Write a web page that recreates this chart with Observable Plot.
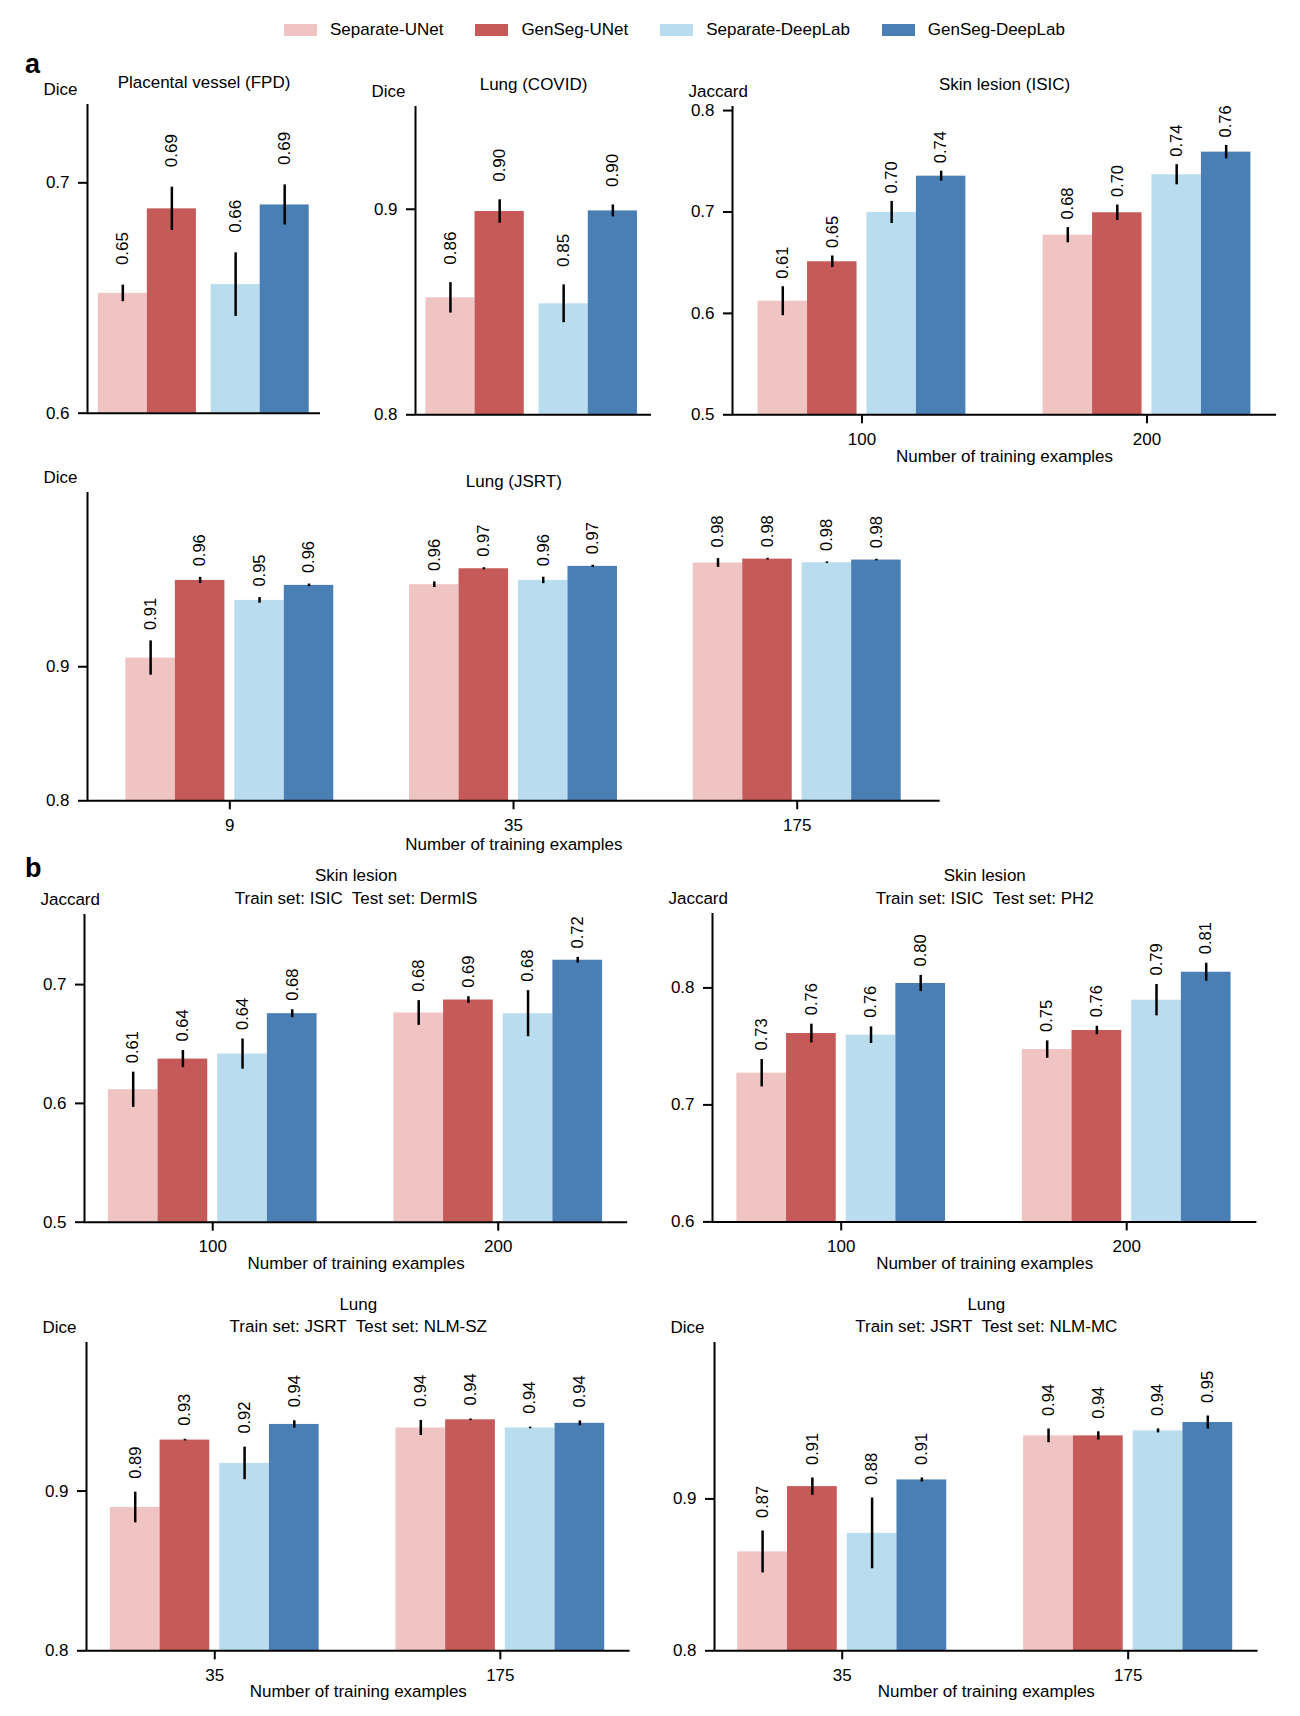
<!DOCTYPE html>
<html>
<head>
<meta charset="utf-8">
<script src="https://cdn.jsdelivr.net/npm/d3@7"></script>
<script src="https://cdn.jsdelivr.net/npm/@observablehq/plot@0.6"></script>
<style>
  body { margin: 0; background: #fff; font-family: "Liberation Sans", Arial, sans-serif; color: #000; }
  #root { position: relative; width: 1300px; height: 1716px; overflow: hidden; }
  .panel { position: absolute; }
  .letter { position: absolute; font-weight: bold; font-size: 27px; line-height: 1; }
  .legend { position: absolute; display: flex; align-items: center; font-size: 17px; white-space: nowrap; }
  .legend .item { display: flex; align-items: center; margin-right: 32px; }
  .legend .sw { width: 33px; height: 12px; margin-right: 13px; }
</style>
</head>
<body>
<div id="root"></div>
<script>
// ---------- series ----------
const series = ["Separate-UNet", "GenSeg-UNet", "Separate-DeepLab", "GenSeg-DeepLab"];
const colors = ["#F0C4C2", "#C55A58", "#BADCEF", "#4A7FB5"];

// ---------- panel a ----------
const fpdGroups = [""];
const fpdMean = [[0.652, 0.6887, 0.6558, 0.6904]];
const fpdErr  = [[0.0036, 0.0094, 0.0138, 0.0087]];
const fpdTicks = [0.6, 0.7];

const covidGroups = [""];
const covidMean = [[0.8569, 0.8989, 0.854, 0.8992]];
const covidErr  = [[0.0074, 0.0057, 0.0092, 0.0029]];
const covidTicks = [0.8, 0.9];

const isicGroups = ["100", "200"];
const isicMean = [[0.612, 0.6509, 0.6995, 0.7353], [0.6771, 0.6992, 0.7367, 0.759]];
const isicErr  = [[0.0143, 0.0057, 0.0109, 0.0049], [0.0075, 0.0076, 0.0099, 0.0066]];
const isicTicks = [0.5, 0.6, 0.7, 0.8];

const jsrtGroups = ["9", "35", "175"];
const jsrtMean = [[0.9065, 0.9644, 0.9495, 0.9607], [0.9612, 0.9731, 0.9644, 0.9749], [0.9774, 0.9803, 0.9776, 0.9796]];
const jsrtErr  = [[0.0128, 0.0023, 0.0021, 0.001], [0.0021, 0.0008, 0.0024, 0.0008], [0.0033, 0.0006, 0.0006, 0.0006]];
const jsrtTicks = [0.8, 0.9];

// ---------- panel b ----------
const dermGroups = ["100", "200"];
const dermMean = [[0.6115, 0.6373, 0.6415, 0.6755], [0.6761, 0.687, 0.6755, 0.7205]];
const dermErr  = [[0.0148, 0.0072, 0.0127, 0.0033], [0.0104, 0.0028, 0.0194, 0.0024]];
const dermTicks = [0.5, 0.6, 0.7];

const ph2Groups = ["100", "200"];
const ph2Mean = [[0.7271, 0.761, 0.7596, 0.8038], [0.7473, 0.7636, 0.7895, 0.8134]];
const ph2Err  = [[0.0117, 0.008, 0.0071, 0.0069], [0.0074, 0.0036, 0.0134, 0.0077]];
const ph2Ticks = [0.6, 0.7, 0.8];

const szGroups = ["35", "175"];
const szMean = [[0.8897, 0.9319, 0.9173, 0.9417], [0.9395, 0.9446, 0.9395, 0.9424]];
const szErr  = [[0.0096, 0.0005, 0.0102, 0.0023], [0.0047, 0.0005, 0.0005, 0.0015]];
const szTicks = [0.8, 0.9];

const mcGroups = ["35", "175"];
const mcMean = [[0.8651, 0.9081, 0.8773, 0.9125], [0.9415, 0.9415, 0.9448, 0.9503]];
const mcErr  = [[0.0138, 0.0057, 0.0233, 0.0013], [0.0045, 0.0027, 0.0013, 0.0043]];
const mcTicks = [0.8, 0.9];

const xTitle = "Number of training examples";

// ---------- layout (positions & styles only) ----------
const FONT = "'Liberation Sans', Arial, Helvetica, sans-serif";
const FS = 17;
const root = document.getElementById("root");
const fmt = d3.format(".2f");

function panel(o) {
  const [fl, fr, ft, fb] = o.frame;
  const mL = 60, mR = 14, mT = 56, mB = 60;
  const rows = [];
  o.groups.forEach((g, gi) => series.forEach((s, si) => {
    const off = [-2 - o.gap / 2, -1 - o.gap / 2, o.gap / 2, 1 + o.gap / 2][si];
    const x1 = gi * o.S + off;
    rows.push({group: g, series: s, x1, x2: x1 + 1, xc: x1 + 0.5,
      base: o.yDomain[0], v: o.mean[gi][si], e: o.err[gi][si]});
  }));
  const marks = [
    Plot.rectY(rows, {x1: "x1", x2: "x2", y1: "base", y2: "v", fill: "series"}),
    Plot.ruleX(rows, {x: "xc", y1: d => d.v - d.e, y2: d => d.v + d.e, stroke: "black", strokeWidth: 2.5}),
    Plot.text(rows, {x: "xc", y: d => d.v + d.e, text: d => fmt(d.v), rotate: -90,
      textAnchor: "start", lineAnchor: "middle", dy: -o.labelGap, fontSize: o.labelSize || 16.5}),
    Plot.ruleX([o.xDomain[0]], {stroke: "black", strokeWidth: 2}),
    Plot.ruleY([o.yDomain[0]], {stroke: "black", strokeWidth: 2}),
    Plot.axisY({ticks: o.yTicks, tickFormat: ".1f", tickSize: 9, tickPadding: 9,
      strokeWidth: 2, fontSize: FS, label: null}),
    Plot.text([o.ylabel], {text: d => d, frameAnchor: "top-left", textAnchor: "start",
      lineAnchor: "middle", dx: -44, dy: -14.5, fontSize: FS})
  ];
  o.titles.forEach((t, i) => marks.push(
    Plot.text([t], {text: d => d, frameAnchor: "top", lineAnchor: "middle", dy: o.titleDy[i], fontSize: FS})));
  if (o.xlabel) {
    marks.push(Plot.axisX({ticks: o.groups.map((_, i) => i * o.S),
      tickFormat: d => o.groups[Math.round(d / o.S)], tickSize: 9, tickPadding: 9,
      strokeWidth: 2, fontSize: FS, label: null}));
    marks.push(Plot.text([o.xlabel], {text: d => d, frameAnchor: "bottom", lineAnchor: "middle",
      dy: o.xlabelDy, fontSize: FS}));
  }
  const chart = Plot.plot({
    width: fr - fl + mL + mR,
    height: fb - ft + mT + mB,
    marginLeft: mL, marginRight: mR, marginTop: mT, marginBottom: mB,
    style: {background: "transparent", overflow: "visible", fontFamily: FONT, color: "black"},
    x: {domain: o.xDomain, axis: null},
    y: {domain: o.yDomain, axis: null},
    color: {domain: series, range: colors},
    marks
  });
  const div = document.createElement("div");
  div.className = "panel";
  div.style.left = (fl - mL) + "px";
  div.style.top = (ft - mT) + "px";
  div.style.width = (fr - fl + mL + mR) + "px";
  div.appendChild(chart);
  root.appendChild(div);
}

// legend
const leg = document.createElement("div");
leg.className = "legend";
leg.style.left = "284px";
leg.style.top = "20px";
series.forEach((s, i) => {
  const it = document.createElement("div");
  it.className = "item";
  const sw = document.createElement("div");
  sw.className = "sw";
  sw.style.background = colors[i];
  const tx = document.createElement("span");
  tx.textContent = s;
  it.appendChild(sw); it.appendChild(tx);
  leg.appendChild(it);
});
root.appendChild(leg);

// panel letters
[["a", 25, 51], ["b", 25, 855]].forEach(([t, x, y]) => {
  const el = document.createElement("div");
  el.className = "letter";
  el.textContent = t;
  el.style.left = x + "px"; el.style.top = y + "px";
  root.appendChild(el);
});

panel({groups: fpdGroups, mean: fpdMean, err: fpdErr, yTicks: fpdTicks,
  yDomain: [0.6, 0.734], frame: [87, 320, 104, 412.7], S: 0, xDomain: [-2.37, 2.38],
  gap: 0.3, labelGap: 20, labelSize: 17, titles: ["Placental vessel (FPD)"], titleDy: [-21.5], ylabel: "Dice"});

panel({groups: covidGroups, mean: covidMean, err: covidErr, yTicks: covidTicks,
  yDomain: [0.8, 0.95], frame: [415, 651, 106, 414.3], S: 0, xDomain: [-2.36, 2.435],
  gap: 0.3, labelGap: 18, labelSize: 17, titles: ["Lung (COVID)"], titleDy: [-21.7], ylabel: "Dice"});

panel({groups: isicGroups, mean: isicMean, err: isicErr, yTicks: isicTicks,
  yDomain: [0.5, 0.804], frame: [731.7, 1275.7, 106, 414.3], S: 5.759, xDomain: [-2.616, 8.376],
  gap: 0.2, labelGap: 8, titles: ["Skin lesion (ISIC)"], titleDy: [-22], ylabel: "Jaccard",
  xlabel: xTitle, xlabelDy: 41.7});

panel({groups: jsrtGroups, mean: jsrtMean, err: jsrtErr, yTicks: jsrtTicks,
  yDomain: [0.8, 1.03], frame: [86.7, 939.4, 491.7, 800], S: 5.731, xDomain: [-2.875, 14.35],
  gap: 0.2, labelGap: 11, titles: ["Lung (JSRT)"], titleDy: [-11], ylabel: "Dice",
  xlabel: xTitle, xlabelDy: 43.3});

panel({groups: dermGroups, mean: dermMean, err: dermErr, yTicks: dermTicks,
  yDomain: [0.5, 0.759], frame: [84.2, 627.4, 914, 1221.7], S: 5.745, xDomain: [-2.58, 8.35],
  gap: 0.2, labelGap: 9, titles: ["Skin lesion", "Train set: ISIC\u00a0 Test set: DermIS"],
  titleDy: [-39, -15.7], ylabel: "Jaccard", xlabel: xTitle, xlabelDy: 41.6});

panel({groups: ph2Groups, mean: ph2Mean, err: ph2Err, yTicks: ph2Ticks,
  yDomain: [0.6, 0.8636], frame: [712.2, 1256.6, 913.3, 1221.7], S: 5.745, xDomain: [-2.59, 8.365],
  gap: 0.2, labelGap: 9, titles: ["Skin lesion", "Train set: ISIC\u00a0 Test set: PH2"],
  titleDy: [-38.3, -15], ylabel: "Jaccard", xlabel: xTitle, xlabelDy: 41.6});

panel({groups: szGroups, mean: szMean, err: szErr, yTicks: szTicks,
  yDomain: [0.8, 0.993], frame: [85.9, 629.5, 1341.7, 1650], S: 5.745, xDomain: [-2.58, 8.355],
  gap: 0.2, labelGap: 13.5, titles: ["Lung", "Train set: JSRT\u00a0 Test set: NLM-SZ"],
  titleDy: [-38.4, -15.7], ylabel: "Dice", xlabel: xTitle, xlabelDy: 41});

panel({groups: mcGroups, mean: mcMean, err: mcErr, yTicks: mcTicks,
  yDomain: [0.8, 1.003], frame: [714.3, 1257.9, 1341.7, 1650], S: 5.745, xDomain: [-2.566, 8.355],
  gap: 0.2, labelGap: 13, titles: ["Lung", "Train set: JSRT\u00a0 Test set: NLM-MC"],
  titleDy: [-38.4, -15.7], ylabel: "Dice", xlabel: xTitle, xlabelDy: 41});
</script>
</body>
</html>
